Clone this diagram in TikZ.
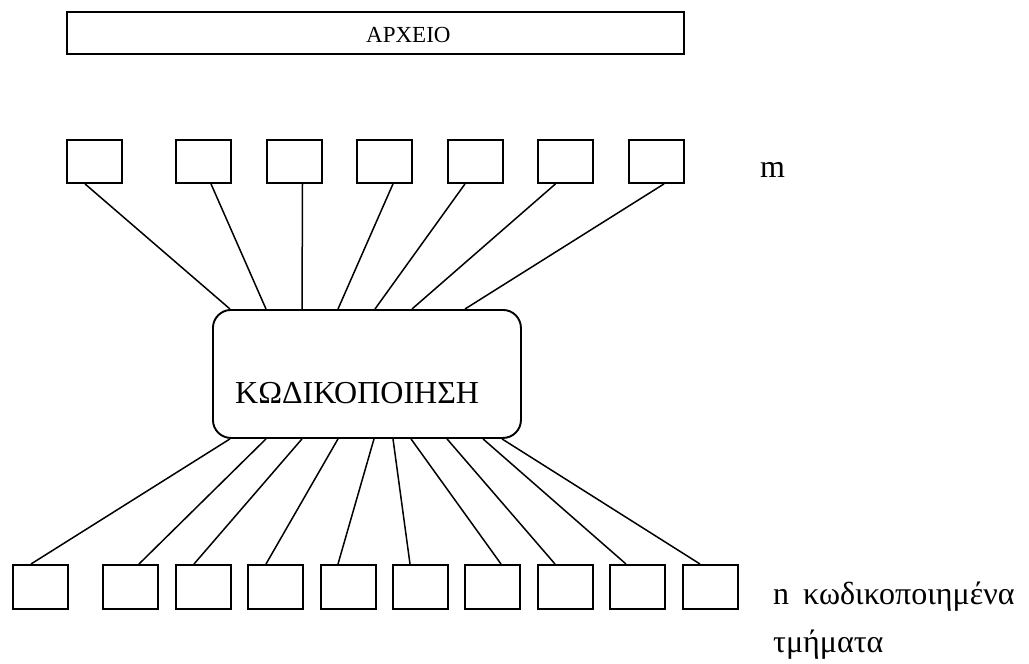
\documentclass[tikz,border=0pt]{standalone}
\usepackage{fontspec}
\setmainfont{Liberation Serif}
\begin{document}
\begin{tikzpicture}[x=1pt,y=-1pt,
  cell/.style={draw, line width=1.9pt, minimum width=55pt, minimum height=43pt,
               inner sep=0pt, anchor=north west},
  link/.style={line width=1.5pt},
  lbl/.style={inner sep=0pt, anchor=base west, font=\fontsize{32}{38}\selectfont}]
\useasboundingbox (0,0) rectangle (1029,664);

% file bar
\node[draw, line width=1.9pt, minimum width=617pt, minimum height=42pt,
      anchor=north west, inner sep=0pt] (file) at (66,11) {};
\node[inner sep=0pt, anchor=base west, font=\fontsize{23}{28}\selectfont]
      (filelbl) at (366,42) {ΑΡΧΕΙΟ};

% m input blocks
\foreach \x [count=\i] in {66,175,266,356,447,537,628}
  \node[cell] (t\i) at (\x,139) {};
\node[lbl] (mlbl) at (760,177) {m};

% encoder
\node[draw, rounded corners=18pt, line width=1.9pt, minimum width=308pt,
      minimum height=128pt, anchor=north west, inner sep=0pt] (enc) at (212,309) {};
\node[lbl] (enclbl) at (235,403) {ΚΩΔΙΚΟΠΟΙΗΣΗ};

% n encoded blocks
\foreach \x [count=\i] in {12,102,175,247,320,392,464,537,609,682}
  \node[cell, minimum height=44pt] (b\i) at (\x,564) {};
\node[lbl] (nlbl) at (773,604) {n\hspace{14pt}κωδικοποιημένα};
\node[lbl] (seglbl) at (773,652) {τμήματα};

% inputs to encoder
\foreach \i/\a/\b in {1/19/18, 2/36/54, 3/36.5/90, 4/37/126, 5/18/163, 6/18.5/200, 7/36/253}
  \draw[link] ([xshift=\a pt]t\i.south west) -- ([xshift=\b pt]enc.north west);

% encoder to outputs
\foreach \i/\a/\b in {1/18/19, 2/54/37, 3/90/19, 4/126/19, 5/162/18,
                      6/181/18, 7/199/37, 8/235/18, 9/271/17, 10/290/18}
  \draw[link] ([xshift=\a pt]enc.south west) -- ([xshift=\b pt]b\i.north west);
\end{tikzpicture}
\end{document}
